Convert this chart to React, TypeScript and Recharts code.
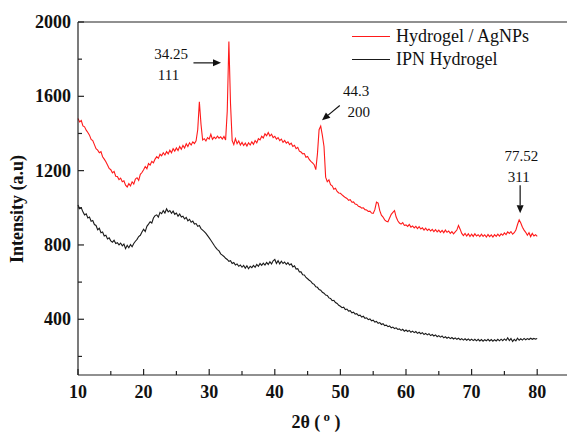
import React from 'react';
import {
  LineChart,
  Line,
  XAxis,
  YAxis,
  ReferenceLine,
  ReferenceDot,
} from 'recharts';

// 2θ grid: one reading every 0.25° from 10° to 80°
const THETA_START = 10;
const THETA_STEP = 0.25;

// Hydrogel / AgNPs (red), one row = 5°
const agnpsIntensity = [
  1480, 1462, 1470, 1441, 1436, 1418, 1405, 1391, 1368, 1362, 1340, 1318, 1310, 1296, 1302, 1275, 1262, 1248, 1230, 1212,
  1205, 1188, 1196, 1170, 1168, 1152, 1160, 1140, 1145, 1122, 1112, 1130, 1118, 1140, 1128, 1155, 1162, 1148, 1180, 1190,
  1205, 1222, 1210, 1238, 1230, 1250, 1242, 1262, 1275, 1266, 1288, 1280, 1296, 1284, 1302, 1290, 1310, 1296, 1318, 1305,
  1322, 1308, 1330, 1315, 1336, 1322, 1345, 1330, 1350, 1338, 1355, 1346, 1360, 1420, 1570, 1450, 1365, 1372, 1360, 1378,
  1370, 1396, 1368, 1380, 1372, 1386, 1375, 1382, 1370, 1384, 1365, 1520, 1895, 1560, 1362, 1340, 1372, 1345, 1360, 1338,
  1352, 1335, 1348, 1332, 1350, 1338, 1355, 1342, 1362, 1350, 1372, 1365, 1385, 1376, 1398, 1388, 1405, 1386, 1396, 1378,
  1385, 1370, 1378, 1362, 1370, 1352, 1362, 1348, 1355, 1340, 1348, 1330, 1336, 1318, 1325, 1305, 1300, 1290, 1292, 1272,
  1276, 1260, 1250, 1242, 1232, 1205, 1290, 1420, 1440, 1390, 1330, 1165, 1140, 1150, 1125, 1118, 1100, 1105, 1088, 1080,
  1078, 1070, 1062, 1055, 1050, 1040, 1044, 1030, 1032, 1020, 1018, 1008, 1005, 998, 1000, 990, 988, 980, 982, 972,
  970, 990, 1030, 1025, 985, 960, 950, 935, 928, 925, 945, 965, 975, 985, 950, 930, 918, 912, 920, 905,
  908, 900, 910, 896, 902, 892, 900, 888, 898, 886, 892, 880, 890, 878, 886, 875, 884, 872, 882, 870,
  880, 868, 878, 866, 880, 868, 875, 862, 872, 860, 870, 880, 905, 885, 862, 850, 862, 848, 860, 845,
  858, 846, 860, 848, 855, 845, 858, 846, 855, 843, 856, 845, 854, 842, 855, 846, 858, 848, 860, 852,
  865, 856, 870, 862, 872, 858, 866, 880, 910, 935, 918, 895, 880, 868, 852, 866, 845, 862, 848, 855,
  846,
];

// IPN Hydrogel (black)
const ipnIntensity = [
  1015, 995, 1000, 978, 962, 968, 945, 950, 928, 932, 910, 905, 882, 890, 866, 870, 848, 852, 832, 838,
  822, 815, 825, 808, 812, 800, 810, 795, 805, 780, 798, 785, 802, 790, 808, 820, 830, 845, 852, 870,
  885, 872, 900, 912, 925, 918, 945, 958, 962, 950, 975, 968, 985, 972, 995, 978, 985, 970, 982, 965,
  972, 955, 966, 950, 955, 940, 948, 930, 938, 922, 928, 912, 915, 900, 905, 888, 880, 872, 862, 850,
  838, 825, 812, 798, 785, 775, 768, 752, 745, 738, 728, 722, 712, 715, 700, 705, 692, 698, 685, 692,
  680, 690, 675, 688, 672, 685, 678, 690, 680, 695, 685, 700, 690, 702, 692, 706, 695, 710, 698, 715,
  722, 700, 715, 698, 712, 700, 708, 695, 705, 692, 698, 682, 688, 670, 672, 655, 655, 640, 638, 625,
  618, 610, 604, 592, 588, 575, 572, 560, 556, 545, 540, 530, 528, 515, 512, 500, 502, 490, 485, 475,
  470, 462, 465, 452, 455, 444, 446, 435, 438, 428, 430, 420, 422, 412, 416, 405, 408, 398, 402, 392,
  395, 385, 388, 378, 382, 372, 376, 366, 368, 360, 364, 354, 358, 350, 354, 345, 348, 340, 346, 336,
  342, 334, 340, 330, 336, 328, 334, 324, 330, 322, 328, 318, 324, 316, 322, 312, 318, 310, 316, 306,
  312, 304, 310, 300, 306, 298, 304, 296, 302, 294, 300, 292, 298, 290, 296, 288, 295, 287, 294, 286,
  293, 285, 292, 284, 292, 283, 291, 282, 290, 284, 292, 283, 291, 282, 290, 283, 292, 284, 293, 285,
  294, 286, 300, 285, 296, 280, 292, 284, 298, 287, 295, 288, 297, 290, 296, 291, 298, 292, 297, 293,
  296,
];

const xTicks = [10, 15, 20, 25, 30, 35, 40, 45, 50, 55, 60, 65, 70, 75, 80];
const yTicks = [200, 400, 600, 800, 1000, 1200, 1400, 1600, 1800, 2000];

const peakLabels = [
  { theta: 24.2, intensity: 1828, text: '34.25' },
  { theta: 23.8, intensity: 1715, text: '111' },
  { theta: 52.4, intensity: 1631, text: '44.3' },
  { theta: 52.8, intensity: 1518, text: '200' },
  { theta: 77.6, intensity: 1281, text: '77.52' },
  { theta: 77.2, intensity: 1168, text: '311' },
];

const peakArrows = [
  { x1: 27.6, y1: 1780, x2: 31.8, y2: 1780 },
  { x1: 49.9, y1: 1551, x2: 47.2, y2: 1471 },
  { x1: 77.4, y1: 1121, x2: 77.4, y2: 971 },
];

const chartData = agnpsIntensity.map((v, i) => ({
  theta: THETA_START + i * THETA_STEP,
  agnps: v,
  ipn: ipnIntensity[i],
}));

const SERIF = '"Liberation Serif", "Times New Roman", serif';
const AXIS = '#222';

const XTick = (props: any) => {
  const { x, y, payload } = props;
  const major = payload.value % 10 === 0;
  return (
    <g>
      <line x1={x} x2={x} y1={y} y2={y - (major ? 6 : 4)} stroke={AXIS} strokeWidth={1.2} />
      {major && (
        <text x={x} y={y + 23} textAnchor="middle" fontFamily={SERIF} fontWeight="bold" fontSize={18} fill="#111">
          {payload.value}
        </text>
      )}
    </g>
  );
};

const YTick = (props: any) => {
  const { x, y, payload } = props;
  const major = payload.value % 400 === 0;
  return (
    <g>
      <line x1={x} x2={x + (major ? 6 : 4)} y1={y} y2={y} stroke={AXIS} strokeWidth={1.2} />
      {major && (
        <text x={x - 7} y={y + 6} textAnchor="end" fontFamily={SERIF} fontWeight="bold" fontSize={18} fill="#111">
          {payload.value}
        </text>
      )}
    </g>
  );
};

const Arrow = (props: any) => {
  const { x1, y1, x2, y2 } = props;
  const ang = Math.atan2(y2 - y1, x2 - x1);
  const len = 8;
  const w = 3.5;
  const bx = x2 - len * Math.cos(ang);
  const by = y2 - len * Math.sin(ang);
  const px = -Math.sin(ang) * w;
  const py = Math.cos(ang) * w;
  return (
    <g>
      <line x1={x1} y1={y1} x2={bx} y2={by} stroke="#111" strokeWidth={1.2} />
      <polygon points={`${x2},${y2} ${bx + px},${by + py} ${bx - px},${by - py}`} fill="#111" />
    </g>
  );
};

export default function App() {
  return (
    <div style={{ position: 'absolute', left: 0, top: 0, width: 567, height: 432, overflow: 'hidden', background: '#fff' }}>
      <LineChart width={580} height={432} data={chartData} margin={{ top: 22, right: 10, left: 0, bottom: 27 }}>
        <XAxis
          dataKey="theta"
          type="number"
          domain={[10, 85]}
          ticks={xTicks}
          interval={0}
          stroke={AXIS}
          strokeWidth={1.2}
          tickLine={false}
          tickSize={0}
          tickMargin={0}
          tick={<XTick />}
          height={30}
          label={{
            content: () => (
              <text x={316} y={428} textAnchor="middle" fontFamily={SERIF} fontWeight="bold" fontSize={18} fill="#111">
                2θ (
                <tspan dy={-7} fontSize={13}> o</tspan>
                <tspan dy={7}> )</tspan>
              </text>
            ),
          }}
        />
        <YAxis
          type="number"
          domain={[100, 2000]}
          ticks={yTicks}
          interval={0}
          width={78}
          stroke={AXIS}
          strokeWidth={1.2}
          tickLine={false}
          tickSize={0}
          tickMargin={0}
          tick={<YTick />}
          label={{
            content: () => (
              <text
                x={17}
                y={209}
                transform="rotate(-90 17 209)"
                textAnchor="middle"
                dominantBaseline="central"
                fontFamily={SERIF}
                fontWeight="bold"
                fontSize={18}
                fill="#111"
              >
                Intensity (a.u)
              </text>
            ),
          }}
        />
        <ReferenceLine y={2000} stroke={AXIS} strokeWidth={1.2} />
        <Line
          dataKey="ipn"
          type="linear"
          stroke="#1a1a1a"
          strokeWidth={1.1}
          dot={false}
          isAnimationActive={false}
        />
        <Line
          dataKey="agnps"
          type="linear"
          stroke="#ff1a1a"
          strokeWidth={1.1}
          dot={false}
          isAnimationActive={false}
        />
        {peakArrows.map((a, i) => (
          <ReferenceLine
            key={`arrow-${i}`}
            segment={[
              { x: a.x1, y: a.y1 },
              { x: a.x2, y: a.y2 },
            ]}
            shape={<Arrow />}
          />
        ))}
        {peakLabels.map((p, i) => (
          <ReferenceDot
            key={`label-${i}`}
            x={p.theta}
            y={p.intensity}
            r={0}
            shape={(s: any) => (
              <text x={s.cx} y={s.cy} dy={5} textAnchor="middle" fontFamily={SERIF} fontSize={15} fill="#111">
                {p.text}
              </text>
            )}
          />
        ))}
      </LineChart>
      <div style={{ position: 'absolute', left: 352, top: 25, fontFamily: SERIF, fontSize: 18, color: '#111', lineHeight: '23px' }}>
        <div style={{ display: 'flex', alignItems: 'center' }}>
          <span style={{ display: 'inline-block', width: 38, borderTop: '1px solid #ff1a1a', marginRight: 6 }} />
          Hydrogel / AgNPs
        </div>
        <div style={{ display: 'flex', alignItems: 'center' }}>
          <span style={{ display: 'inline-block', width: 38, borderTop: '1px solid #1a1a1a', marginRight: 6 }} />
          IPN Hydrogel
        </div>
      </div>
    </div>
  );
}
